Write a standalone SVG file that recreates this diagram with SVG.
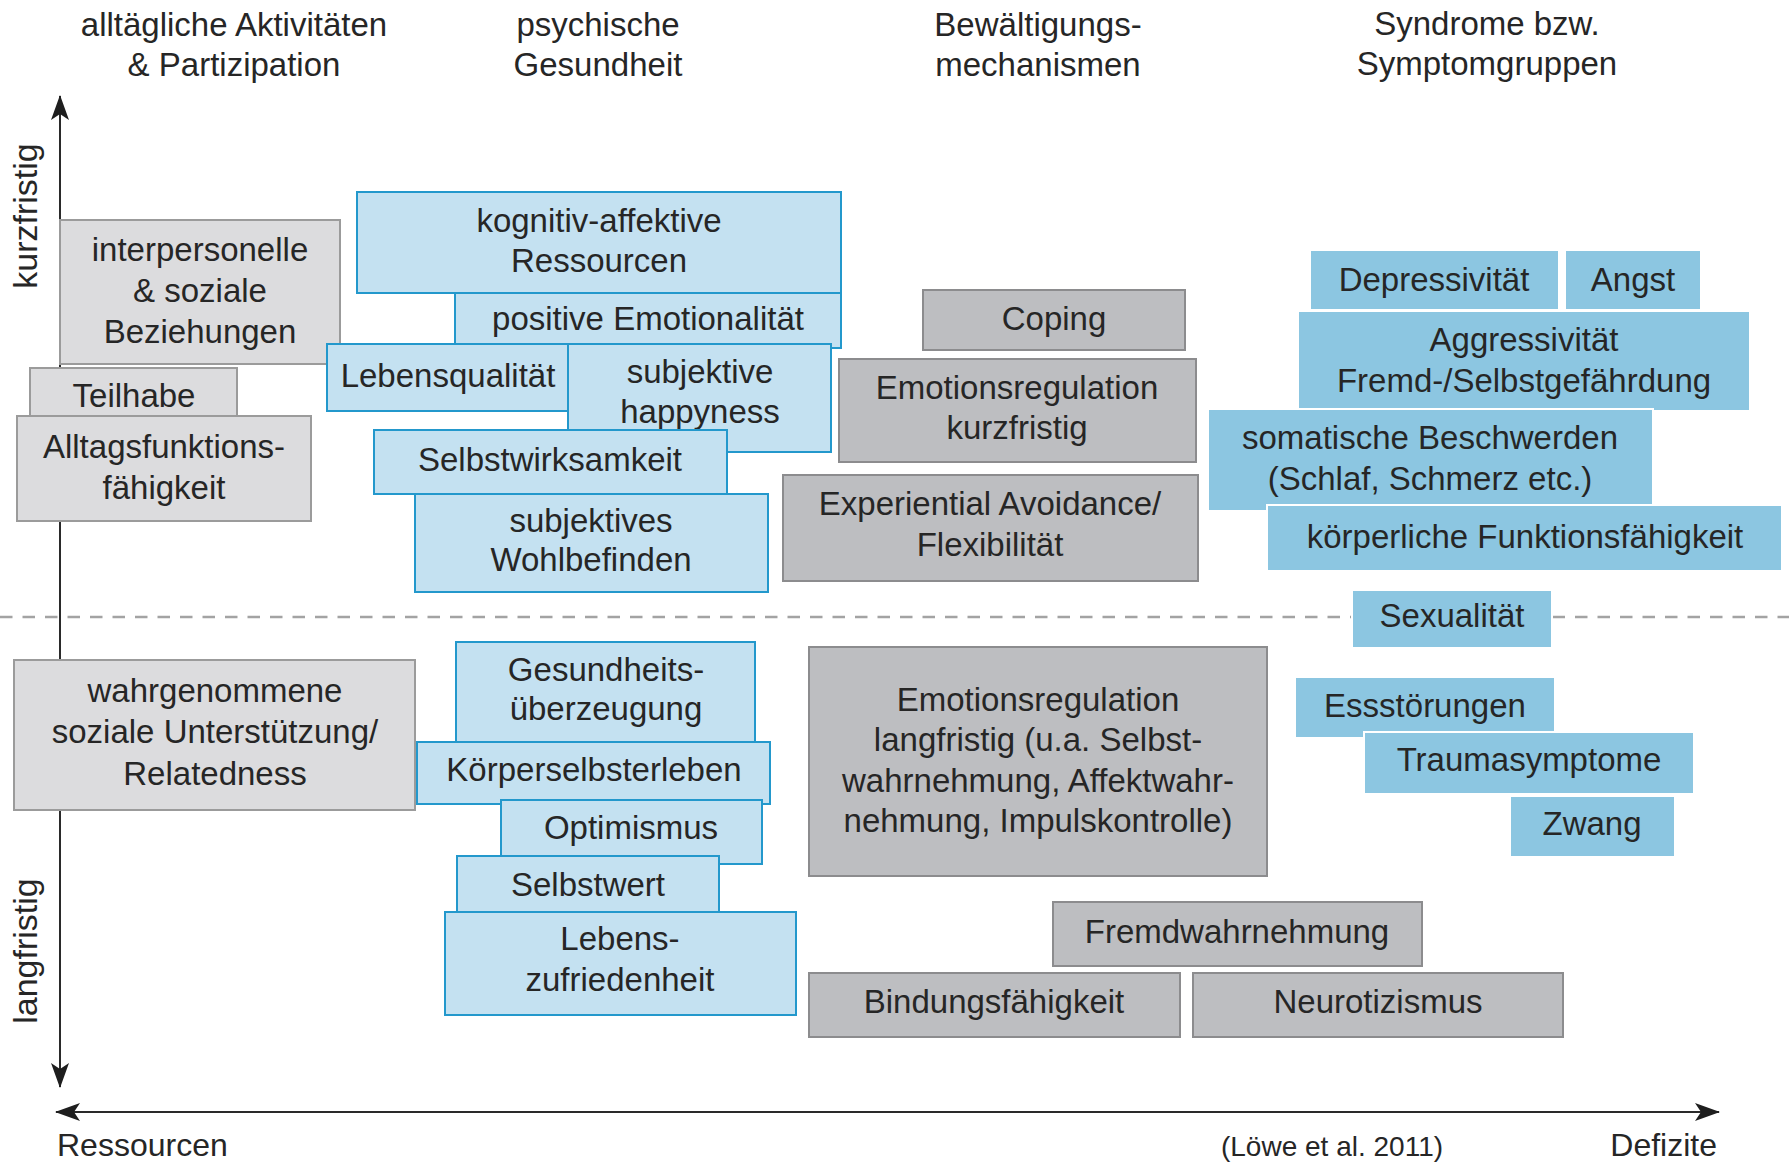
<svg xmlns="http://www.w3.org/2000/svg" width="1789" height="1163" viewBox="0 0 1789 1163">
<defs>
<style>
text{font-family:"Liberation Sans",Arial,sans-serif;font-size:33px;fill:#262626;text-anchor:middle}
.g1{fill:#dcdcde;stroke:#9b9b9b;stroke-width:2}
.g2{fill:#bdbec1;stroke:#8c8c8e;stroke-width:2}
.b1{fill:#c4e1f1;stroke:#2398cc;stroke-width:2}
.b2{fill:#8cc6e1;stroke:#ffffff;stroke-width:2}
.ax{stroke:#2a2a2a;stroke-width:2;fill:none}
.side{font-size:34px}
.small{font-size:28px}
.lab{font-size:32px}
</style>
<marker id="arr" viewBox="-26 -11 28 22" refX="0" refY="0" markerWidth="28" markerHeight="22" markerUnits="userSpaceOnUse" orient="auto-start-reverse">
<path d="M1,0 L-24,-9 L-18,0 L-24,9 Z" fill="#1e1e1e"/>
</marker>
</defs>
<rect width="1789" height="1163" fill="#ffffff"/>

<g id="headers">
<text x="234" y="36">alltägliche Aktivitäten</text>
<text x="234" y="76">&amp; Partizipation</text>
<text x="598" y="36">psychische</text>
<text x="598" y="76">Gesundheit</text>
<text x="1038" y="36">Bewältigungs-</text>
<text x="1038" y="76">mechanismen</text>
<text x="1487" y="35">Syndrome bzw.</text>
<text x="1487" y="75">Symptomgruppen</text>
</g>

<g id="connectors">
<line x1="0" y1="617" x2="1789" y2="617" stroke="#a3a3a3" stroke-width="2.5" stroke-dasharray="12.5 10"/>
<line class="ax" x1="60" y1="1087" x2="60" y2="96" marker-start="url(#arr)" marker-end="url(#arr)"/>
<line class="ax" x1="56" y1="1112" x2="1719" y2="1112" marker-start="url(#arr)" marker-end="url(#arr)"/>
</g>

<g id="axis-labels">
<text class="side" transform="translate(37,216) rotate(-90)">kurzfristig</text>
<text class="side" transform="translate(37,951) rotate(-90)">langfristig</text>
<text class="lab" x="57" y="1156" style="text-anchor:start">Ressourcen</text>
<text class="lab" x="1717" y="1156" style="text-anchor:end">Defizite</text>
<text class="small" x="1332" y="1156">(Löwe et al. 2011)</text>
</g>

<g id="n-interpersonelle"><rect class="g1" x="60" y="220" width="280" height="144"/><text x="200" y="261">interpersonelle</text><text x="200" y="302">&amp; soziale</text><text x="200" y="343">Beziehungen</text></g>
<g id="n-teilhabe"><rect class="g1" x="30" y="368" width="207" height="60"/><text x="134" y="407">Teilhabe</text></g>
<g id="n-alltag"><rect class="g1" x="17" y="416" width="294" height="105"/><text x="164" y="458">Alltagsfunktions-</text><text x="164" y="499">fähigkeit</text></g>
<g id="n-wahrgenommene"><rect class="g1" x="14" y="660" width="401" height="150"/><text x="215" y="702">wahrgenommene</text><text x="215" y="743">soziale Unterstützung/</text><text x="215" y="785">Relatedness</text></g>

<g id="n-kognitiv"><rect class="b1" x="357" y="192" width="484" height="101"/><text x="599" y="232">kognitiv-affektive</text><text x="599" y="272">Ressourcen</text></g>
<g id="n-positive"><rect class="b1" x="455" y="293" width="386" height="55"/><text x="648" y="330">positive Emotionalität</text></g>
<g id="n-lebensqualitaet"><rect class="b1" x="327" y="344" width="241" height="67"/><text x="448" y="387">Lebensqualität</text></g>
<g id="n-happyness"><rect class="b1" x="568" y="344" width="263" height="108"/><text x="700" y="383">subjektive</text><text x="700" y="423">happyness</text></g>
<g id="n-selbstwirksamkeit"><rect class="b1" x="374" y="430" width="353" height="64"/><text x="550" y="471">Selbstwirksamkeit</text></g>
<g id="n-wohlbefinden"><rect class="b1" x="415" y="494" width="353" height="98"/><text x="591" y="532">subjektives</text><text x="591" y="571">Wohlbefinden</text></g>
<g id="n-gesundheit"><rect class="b1" x="456" y="642" width="299" height="100"/><text x="606" y="681">Gesundheits-</text><text x="606" y="720">überzeugung</text></g>
<g id="n-koerper"><rect class="b1" x="417" y="742" width="353" height="62"/><text x="594" y="781">Körperselbsterleben</text></g>
<g id="n-optimismus"><rect class="b1" x="501" y="800" width="261" height="64"/><text x="631" y="839">Optimismus</text></g>
<g id="n-selbstwert"><rect class="b1" x="457" y="856" width="262" height="56"/><text x="588" y="896">Selbstwert</text></g>
<g id="n-lebenszufriedenheit"><rect class="b1" x="445" y="912" width="351" height="103"/><text x="620" y="950">Lebens-</text><text x="620" y="991">zufriedenheit</text></g>

<g id="n-coping"><rect class="g2" x="923" y="290" width="262" height="60"/><text x="1054" y="330">Coping</text></g>
<g id="n-emo-kurz"><rect class="g2" x="839" y="359" width="357" height="103"/><text x="1017" y="399">Emotionsregulation</text><text x="1017" y="439">kurzfristig</text></g>
<g id="n-experiential"><rect class="g2" x="783" y="475" width="415" height="106"/><text x="990" y="515">Experiential Avoidance/</text><text x="990" y="556">Flexibilität</text></g>
<g id="n-emo-lang"><rect class="g2" x="809" y="647" width="458" height="229"/><text x="1038" y="711">Emotionsregulation</text><text x="1038" y="751">langfristig (u.a. Selbst-</text><text x="1038" y="792">wahrnehmung, Affektwahr-</text><text x="1038" y="832">nehmung, Impulskontrolle)</text></g>
<g id="n-fremd"><rect class="g2" x="1053" y="902" width="369" height="64"/><text x="1237" y="943">Fremdwahrnehmung</text></g>
<g id="n-bindung"><rect class="g2" x="809" y="973" width="371" height="64"/><text x="994" y="1013">Bindungsfähigkeit</text></g>
<g id="n-neurotizismus"><rect class="g2" x="1193" y="973" width="370" height="64"/><text x="1378" y="1013">Neurotizismus</text></g>

<g id="n-depressivitaet"><rect class="b2" x="1310" y="250" width="249" height="60"/><text x="1434" y="291">Depressivität</text></g>
<g id="n-angst"><rect class="b2" x="1565" y="250" width="136" height="60"/><text x="1633" y="291">Angst</text></g>
<g id="n-aggressivitaet"><rect class="b2" x="1298" y="311" width="452" height="100"/><text x="1524" y="351">Aggressivität</text><text x="1524" y="392">Fremd-/Selbstgefährdung</text></g>
<g id="n-somatisch"><rect class="b2" x="1208" y="409" width="445" height="102"/><text x="1430" y="449">somatische Beschwerden</text><text x="1430" y="490">(Schlaf, Schmerz etc.)</text></g>
<g id="n-koerperlich"><rect class="b2" x="1267" y="505" width="515" height="66"/><text x="1525" y="548">körperliche Funktionsfähigkeit</text></g>
<g id="n-sexualitaet"><rect class="b2" x="1352" y="590" width="200" height="58"/><text x="1452" y="627">Sexualität</text></g>
<g id="n-essstoerungen"><rect class="b2" x="1295" y="677" width="260" height="61"/><text x="1425" y="717">Essstörungen</text></g>
<g id="n-trauma"><rect class="b2" x="1364" y="732" width="330" height="62"/><text x="1529" y="771">Traumasymptome</text></g>
<g id="n-zwang"><rect class="b2" x="1510" y="796" width="165" height="61"/><text x="1592" y="835">Zwang</text></g>
</svg>
